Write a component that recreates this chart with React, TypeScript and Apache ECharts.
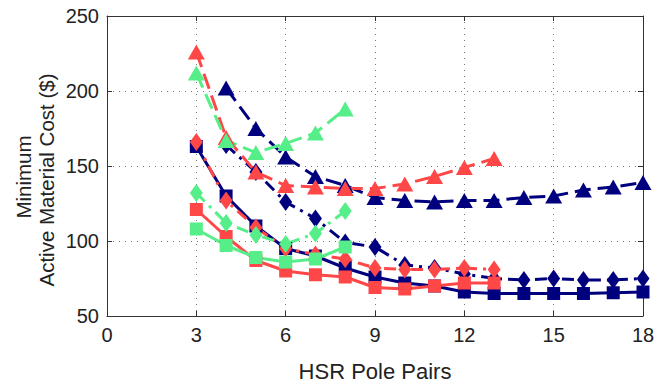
import React, { useEffect, useRef } from "react";
import * as echarts from "echarts";

const NAVY = "#00007f";
const RED = "#ff4747";
const GREEN = "#55ee88";
const FONT = "Liberation Sans, Arial, Helvetica, sans-serif";

// x tick labels / y tick labels
const xTicks = [0, 3, 6, 9, 12, 15, 18];
const yTicks = [50, 100, 150, 200, 250];
const yTitleLines = ["Minimum", "Active Material Cost ($)"];
const xTitle = "HSR Pole Pairs";

// [pole pairs, cost]
const navyTriangle = [[4, 202], [5, 175], [6, 156], [7, 143], [8, 137], [9, 129], [10, 127], [11, 126], [12, 127], [13, 127], [14, 129], [15, 130], [16, 134], [17, 136], [18, 139]];
const navyDiamond = [[4, 164], [5, 146], [6, 126], [7, 115], [8, 99], [9, 96], [10, 84], [11, 82], [12, 78], [13, 75], [14, 74], [15, 75], [16, 74], [17, 74], [18, 75]];
const navySquare = [[3, 163], [4, 130], [5, 110], [6, 95], [7, 90], [8, 82], [9, 76], [10, 72], [11, 70], [12, 66], [13, 65], [14, 65], [15, 65], [16, 65], [17, 65.5], [18, 66]];

const redTriangle = [[3, 226], [4, 169], [5, 146], [6, 137], [7, 136], [8, 135], [9, 135], [10, 138], [11, 143], [12, 149], [13, 155]];
const redDiamond = [[3, 166], [4, 127], [5, 109], [6, 95], [7, 91], [8, 88], [9, 82], [10, 81], [11, 81], [12, 82], [13, 81]];
const redSquare = [[3, 121], [4, 103], [5, 87], [6, 80], [7, 77.5], [8, 76], [9, 69], [10, 68], [11, 70], [12, 72], [13, 72]];

const greenTriangle = [[3, 212], [4, 167], [5, 159], [6, 165], [7, 172], [8, 188]];
const greenDiamond = [[3, 132], [4, 112], [5, 104], [6, 98], [7, 105], [8, 120]];
const greenSquare = [[3, 108], [4, 97], [5, 89], [6, 86], [7, 88], [8, 96]];

const DASH = [16, 7];
const DASHDOT = [12, 6, 3, 6];

function mk(data: number[][], color: string, marker: string, dash: any) {
  const size = marker === "triangle" ? [17, 15] : marker === "diamond" ? [13, 18] : [13, 13];
  return {
    type: "line",
    data,
    xAxisIndex: 0,
    yAxisIndex: 0,
    symbol: marker === "square" ? "rect" : marker,
    symbolSize: size,
    showAllSymbol: true,
    itemStyle: { color, borderColor: color, borderWidth: 0 },
    lineStyle: { color, width: 3, type: dash },
    emphasis: { disabled: true },
  };
}

export default function App() {
  const ref = useRef<HTMLDivElement>(null);
  useEffect(() => {
    if (!ref.current) return;
    const chart = echarts.init(ref.current, null, { renderer: "svg" });
    const axisLineStyle = { color: "#333", width: 1 };
    const xMin = xTicks[0];
    const xMax = xTicks[xTicks.length - 1];
    const xInt = xTicks[1] - xTicks[0];
    const yMin = yTicks[0];
    const yMax = yTicks[yTicks.length - 1];
    const yInt = yTicks[1] - yTicks[0];
    chart.setOption({
      animation: false,
      backgroundColor: "#fff",
      grid: { left: 107, top: 16, width: 536, height: 308, containLabel: false },
      graphic: [
        {
          type: "text",
          x: 23,
          y: 177,
          rotation: Math.PI / 2,
          style: { text: yTitleLines[0], fontSize: 20.5, fontFamily: FONT, fill: "#222", textAlign: "center", textVerticalAlign: "middle" },
        },
        {
          type: "text",
          x: 46,
          y: 180,
          rotation: Math.PI / 2,
          style: { text: yTitleLines[1], fontSize: 20.5, fontFamily: FONT, fill: "#222", textAlign: "center", textVerticalAlign: "middle" },
        },
      ],
      xAxis: [
        {
          type: "value",
          min: xMin,
          max: xMax,
          interval: xInt,
          position: "bottom",
          axisLine: { show: true, onZero: false, lineStyle: axisLineStyle },
          axisTick: { show: true, inside: true, length: 5, lineStyle: axisLineStyle },
          axisLabel: { fontSize: 20, color: "#222", margin: 9, fontFamily: FONT },
          splitLine: { show: true, lineStyle: { type: [1, 5], color: "#777", width: 1 } },
          name: xTitle,
          nameLocation: "middle",
          nameGap: 44,
          nameTextStyle: { fontSize: 22, color: "#222", fontFamily: FONT },
        },
        {
          type: "value",
          min: xMin,
          max: xMax,
          interval: xInt,
          position: "top",
          axisLine: { show: true, onZero: false, lineStyle: axisLineStyle },
          axisTick: { show: true, inside: true, length: 5, lineStyle: axisLineStyle },
          axisLabel: { show: false },
          splitLine: { show: false },
        },
      ],
      yAxis: [
        {
          type: "value",
          min: yMin,
          max: yMax,
          interval: yInt,
          position: "left",
          axisLine: { show: true, onZero: false, lineStyle: axisLineStyle },
          axisTick: { show: true, inside: true, length: 5, lineStyle: axisLineStyle },
          axisLabel: { fontSize: 20, color: "#222", margin: 8, fontFamily: FONT },
          splitLine: { show: true, lineStyle: { type: [1, 5], color: "#777", width: 1 } },
        },
        {
          type: "value",
          min: yMin,
          max: yMax,
          interval: yInt,
          position: "right",
          axisLine: { show: true, onZero: false, lineStyle: axisLineStyle },
          axisTick: { show: true, inside: true, length: 5, lineStyle: axisLineStyle },
          axisLabel: { show: false },
          splitLine: { show: false },
        },
      ],
      series: [
        mk(navyTriangle, NAVY, "triangle", DASH),
        mk(navyDiamond, NAVY, "diamond", DASHDOT),
        mk(navySquare, NAVY, "square", "solid"),
        mk(redTriangle, RED, "triangle", DASH),
        mk(redDiamond, RED, "diamond", DASHDOT),
        mk(redSquare, RED, "square", "solid"),
        mk(greenTriangle, GREEN, "triangle", DASH),
        mk(greenDiamond, GREEN, "diamond", DASHDOT),
        mk(greenSquare, GREEN, "square", "solid"),
      ],
    });
    return () => chart.dispose();
  }, []);
  return (
    <div
      ref={ref}
      style={{ position: "fixed", left: 0, top: 0, width: 672, height: 387, background: "#fff" }}
    />
  );
}
